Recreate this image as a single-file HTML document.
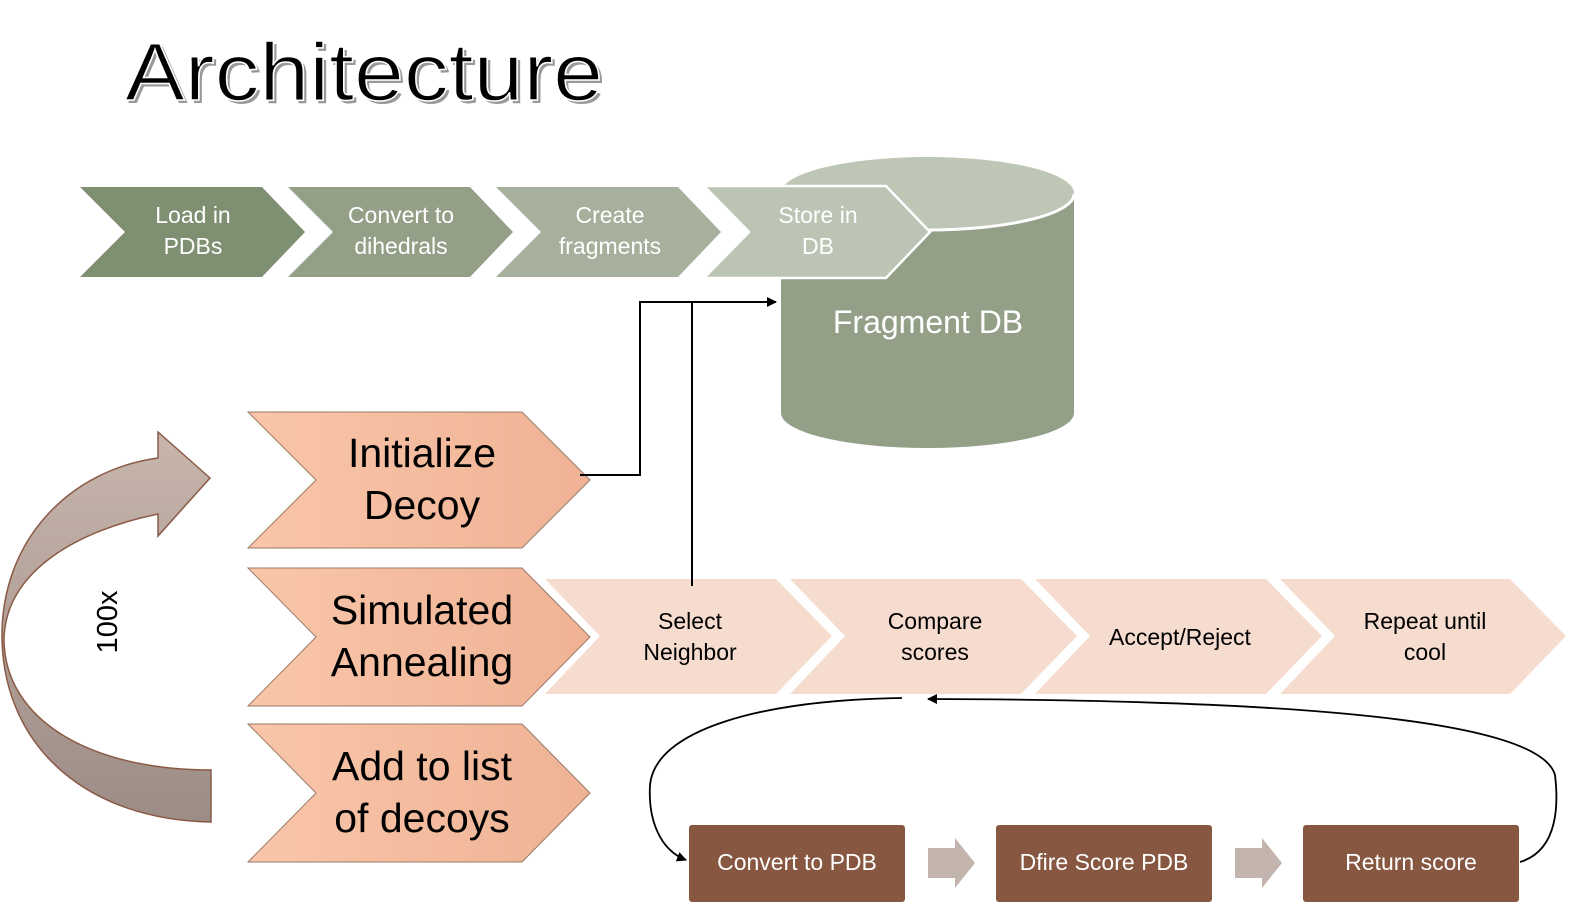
<!DOCTYPE html>
<html><head><meta charset="utf-8"><style>
html,body{margin:0;padding:0;background:#fff;}
svg{display:block;}
text{font-family:"Liberation Sans",sans-serif;}
</style></head><body>
<svg width="1586" height="915" viewBox="0 0 1586 915" xmlns="http://www.w3.org/2000/svg">
<defs>
<linearGradient id="pk" x1="0" y1="0" x2="1" y2="0"><stop offset="0" stop-color="#f9c6aa"/><stop offset="1" stop-color="#efb294"/></linearGradient>
<linearGradient id="ar" x1="0" y1="0" x2="0" y2="1"><stop offset="0" stop-color="#c8b6ad"/><stop offset="1" stop-color="#9c8c86"/></linearGradient>
<marker id="m" markerWidth="10" markerHeight="10" refX="9" refY="5" orient="auto" markerUnits="userSpaceOnUse"><path d="M0,0 L10,5 L0,10 z" fill="#000"/></marker>
</defs>

<!-- Title -->
<text x="125" y="100" font-size="82" fill="#999" textLength="478" lengthAdjust="spacingAndGlyphs" transform="translate(3,3)">Architecture</text>
<text x="125" y="100" font-size="82" fill="#000" stroke="#fff" stroke-width="1.5" paint-order="normal" textLength="478" lengthAdjust="spacingAndGlyphs">Architecture</text>

<!-- Cylinder -->
<path d="M781,194 L781,413 A146.5,35 0 0 0 1074,413 L1074,194 Z" fill="#939f87"/>
<ellipse cx="927.5" cy="193" rx="146.5" ry="36" fill="#bec6b5"/>
<path d="M781,194 A146.5,36 0 0 0 1074,194" fill="none" stroke="#fff" stroke-width="3"/>
<text x="928" y="333" font-size="32" fill="#fff" text-anchor="middle">Fragment DB</text>

<!-- Top chevrons -->
<g font-size="23" fill="#fff" text-anchor="middle">
<polygon points="80,187 262,187 305,232 262,277 80,277 125,232" fill="#7f8f71"/>
<text x="193" y="223">Load in</text><text x="193" y="254">PDBs</text>
<polygon points="288,187 470,187 513,232 470,277 288,277 333,232" fill="#939f87"/>
<text x="401" y="223">Convert to</text><text x="401" y="254">dihedrals</text>
<polygon points="496,187 678,187 721,232 678,277 496,277 541,232" fill="#a7b09c"/>
<text x="610" y="223">Create</text><text x="610" y="254">fragments</text>
<polygon points="704,186 886,186 930,232 886,278 704,278 749,232" fill="#bcc4b4" stroke="#fff" stroke-width="2.5"/>
<text x="818" y="223">Store in</text><text x="818" y="254">DB</text>
</g>

<!-- Light chevrons -->
<g fill="#f6dccf">
<polygon points="545,579 776,579 832,636 776,694 545,694 600,636"/>
<polygon points="790,579 1021,579 1077,636 1021,694 790,694 845,636"/>
<polygon points="1035,579 1266,579 1322,636 1266,694 1035,694 1090,636"/>
<polygon points="1280,579 1510,579 1566,636 1510,694 1280,694 1335,636"/>
</g>
<g font-size="23" fill="#000" text-anchor="middle">
<text x="690" y="629">Select</text><text x="690" y="660">Neighbor</text>
<text x="935" y="629">Compare</text><text x="935" y="660">scores</text>
<text x="1180" y="645">Accept/Reject</text>
<text x="1425" y="629">Repeat until</text><text x="1425" y="660">cool</text>
</g>

<!-- Peach chevrons -->
<g fill="url(#pk)" stroke="#9a7a68" stroke-width="1">
<polygon points="248,412 522,412 590,480 522,548 248,548 316,480"/>
<polygon points="248,568 522,568 590,637 522,706 248,706 316,637"/>
<polygon points="248,724 522,724 590,793 522,862 248,862 316,793"/>
</g>
<g font-size="41" fill="#000" text-anchor="middle">
<text x="422" y="467">Initialize</text><text x="422" y="519">Decoy</text>
<text x="422" y="624">Simulated</text><text x="422" y="676">Annealing</text>
<text x="422" y="780">Add to list</text><text x="422" y="832">of decoys</text>
</g>

<!-- Connectors -->
<polyline points="580,475 640,475 640,302 776,302" fill="none" stroke="#000" stroke-width="2" marker-end="url(#m)"/>
<line x1="692" y1="302" x2="692" y2="586" stroke="#000" stroke-width="2"/>

<!-- Curved arrow loop -->
<path d="M211,822 C90,820 5,750 2,640 C0,540 70,470 158,458 L158,432 L210,478 L158,536 L158,514 C80,530 5,570 4,640 C5,720 90,770 211,770 Z" fill="url(#ar)" stroke="#8a5a45" stroke-width="1.5"/>
<text x="0" y="0" font-size="29" fill="#000" text-anchor="middle" transform="translate(117,622) rotate(-90)">100x</text>

<!-- Brown boxes -->
<g fill="#875741">
<rect x="689" y="825" width="216" height="77" rx="3"/>
<rect x="996" y="825" width="216" height="77" rx="3"/>
<rect x="1303" y="825" width="216" height="77" rx="3"/>
</g>
<g font-size="23" fill="#fff" text-anchor="middle">
<text x="797" y="870">Convert to PDB</text>
<text x="1104" y="870">Dfire Score PDB</text>
<text x="1411" y="870">Return score</text>
</g>
<g fill="#c4b4ae">
<polygon points="928,848 955,848 955,838 975,863 955,888 955,878 928,878"/>
<polygon points="1235,848 1262,848 1262,838 1282,863 1262,888 1262,878 1235,878"/>
</g>

<!-- curved connectors -->
<path d="M902,698 C760,700 655,730 650,785 C648,820 660,850 686,860" fill="none" stroke="#000" stroke-width="1.8" marker-end="url(#m)"/>
<path d="M1520,862 C1560,850 1558,800 1555,775 C1540,720 1300,700 928,699" fill="none" stroke="#000" stroke-width="1.8" marker-end="url(#m)"/>
</svg>
</body></html>
